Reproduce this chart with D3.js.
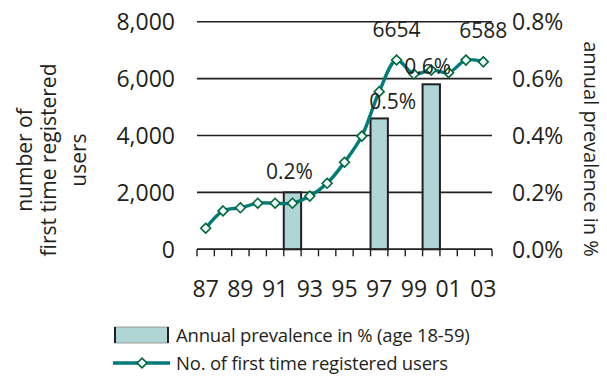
<!DOCTYPE html>
<html><head><meta charset="utf-8">
<script src="https://cdn.jsdelivr.net/npm/d3@7"></script>
<style>
html,body{margin:0;padding:0;background:#fff;}
text{font-family:"Open Sans","Noto Sans",sans-serif;fill:#231f20;}
</style></head>
<body><svg id="c" width="607" height="376"></svg>
<script>
const years = ["87","88","89","90","91","92","93","94","95","96","97","98","99","00","01","02","03"];
const users = [740,1350,1460,1620,1620,1620,1870,2320,3060,3980,5540,6654,6160,6300,6210,6650,6588];
const prevalence = [null,null,null,null,null,0.2,null,null,null,null,0.46,null,null,0.58,null,null,null];
const prevalenceLabels = [null,null,null,null,null,"0.2%",null,null,null,null,"0.5%",null,null,"0.6%",null,null,null];
const userLabels = [null,null,null,null,null,null,null,null,null,null,null,"6654",null,null,null,null,"6588"];
const leftTicks = [0,2000,4000,6000,8000];
const rightTicks = [0,0.2,0.4,0.6,0.8];
const xTickLabels = ["87","89","91","93","95","97","99","01","03"];
const legendLabels = ["Annual prevalence in % (age 18-59)","No. of first time registered users"];

const svg = d3.select("#c");
const L = 197, R = 492, T = 21.7, B = 249.3;
const x = d3.scaleBand().domain(years).range([L, R]).padding(0);
const yL = d3.scaleLinear().domain([0, 8000]).range([B, T]);
const yR = d3.scaleLinear().domain([0, 0.8]).range([B, T]);
const fsTick = 23, fsLab = 21;

// gridlines
svg.append("g").selectAll("line").data(leftTicks).join("line")
  .attr("x1", L).attr("x2", R).attr("y1", d => yL(d)).attr("y2", d => yL(d))
  .attr("stroke", "#231f20").attr("stroke-width", 1.6);

// left tick labels
svg.append("g").selectAll("text").data(leftTicks).join("text")
  .attr("x", 175).attr("y", d => yL(d)).attr("dy", "0.36em")
  .attr("text-anchor", "end").attr("font-size", fsTick)
  .text(d => d3.format(",")(d));

// right tick labels
svg.append("g").selectAll("text").data(rightTicks).join("text")
  .attr("x", 512).attr("y", d => yR(d)).attr("dy", "0.36em")
  .attr("text-anchor", "start").attr("font-size", fsTick)
  .text(d => d3.format(".1f")(d) + "%");

// bars
const barData = years.map((y, i) => ({y, v: prevalence[i], lab: prevalenceLabels[i]})).filter(d => d.v != null);
svg.append("g").selectAll("rect").data(barData).join("rect")
  .attr("x", d => x(d.y)).attr("width", x.bandwidth())
  .attr("y", d => yR(d.v)).attr("height", d => B - yR(d.v))
  .attr("fill", "#b0d5d5").attr("stroke", "#231f20").attr("stroke-width", 2);

// x axis with ticks
const xAxis = svg.append("g");
xAxis.append("line").attr("x1", L).attr("x2", R).attr("y1", B).attr("y2", B)
  .attr("stroke", "#231f20").attr("stroke-width", 1.6);
const tickPos = years.map(y => x(y)).concat([R]);
xAxis.selectAll("line.t").data(tickPos).join("line").attr("class", "t")
  .attr("x1", d => d).attr("x2", d => d).attr("y1", B).attr("y2", B + 7)
  .attr("stroke", "#231f20").attr("stroke-width", 1.4);
xAxis.selectAll("text").data(xTickLabels).join("text")
  .attr("x", d => x(d) + x.bandwidth() / 2).attr("y", 296.5)
  .attr("text-anchor", "middle").attr("font-size", fsTick).text(d => d);

// line
const lineData = years.map((y, i) => ({y, v: users[i], lab: userLabels[i]}));
const line = d3.line().x(d => x(d.y) + x.bandwidth() / 2).y(d => yL(d.v)).curve(d3.curveCatmullRom.alpha(0.5));
svg.append("path").datum(lineData).attr("d", line)
  .attr("fill", "none").attr("stroke", "#007b7b").attr("stroke-width", 3.4);
const diamond = d3.symbol().type(d3.symbolDiamond2).size(62);
svg.append("g").selectAll("path").data(lineData).join("path")
  .attr("d", diamond)
  .attr("transform", d => `translate(${x(d.y) + x.bandwidth() / 2},${yL(d.v)})`)
  .attr("fill", "#eef7fb").attr("stroke", "#006837").attr("stroke-width", 1.6);

// bar labels
const barDx = {"92": -3, "97": 13.5, "00": -3.5};
const barDy = {"92": -21, "97": -17, "00": -18};
svg.append("g").selectAll("text").data(barData).join("text")
  .attr("x", d => x(d.y) + x.bandwidth() / 2 + (barDx[d.y] || 0))
  .attr("y", d => yR(d.v) + (barDy[d.y] || -20)).attr("dy", "0.36em")
  .attr("text-anchor", "middle").attr("font-size", fsLab).attr("fill", "#333")
  .text(d => d.lab);

// line labels
svg.append("g").selectAll("text").data(lineData.filter(d => d.lab)).join("text")
  .attr("x", d => x(d.y) + x.bandwidth() / 2)
  .attr("y", d => yL(d.v) - 31).attr("dy", "0.36em")
  .attr("text-anchor", "middle").attr("font-size", fsLab).attr("fill", "#333")
  .text(d => d.lab);

// axis titles
const lt = svg.append("text").attr("transform", "translate(0,160) rotate(-90)")
  .attr("text-anchor", "middle").attr("font-size", 21);
["number of", "first time registered", "users"].forEach((s, i) =>
  lt.append("tspan").attr("x", 0).attr("y", [32, 56, 86][i]).text(s));
svg.append("text").attr("transform", "translate(584,149) rotate(90)")
  .attr("text-anchor", "middle").attr("font-size", 20).text("annual prevalence in %");

// legend
const lg = svg.append("g");
lg.append("rect").attr("x", 115).attr("y", 327).attr("width", 53).attr("height", 16)
  .attr("fill", "#b0d5d5").attr("stroke", "#888").attr("stroke-width", 0.8);
lg.append("line").attr("x1", 115).attr("x2", 115).attr("y1", 327).attr("y2", 343).attr("stroke", "#231f20").attr("stroke-width", 2);
lg.append("line").attr("x1", 168).attr("x2", 168).attr("y1", 327).attr("y2", 343).attr("stroke", "#231f20").attr("stroke-width", 2);
lg.append("line").attr("x1", 113).attr("x2", 170).attr("y1", 363).attr("y2", 363)
  .attr("stroke", "#007b7b").attr("stroke-width", 3.4);
lg.append("path").attr("d", diamond).attr("transform", "translate(142,363)")
  .attr("fill", "#eef7fb").attr("stroke", "#006837").attr("stroke-width", 1.6);
lg.selectAll("text").data(legendLabels).join("text")
  .attr("x", 176).attr("y", (d, i) => 335 + i * 28).attr("dy", "0.36em")
  .attr("font-size", 18.5).attr("letter-spacing", -0.2).text(d => d);
</script></body></html>
